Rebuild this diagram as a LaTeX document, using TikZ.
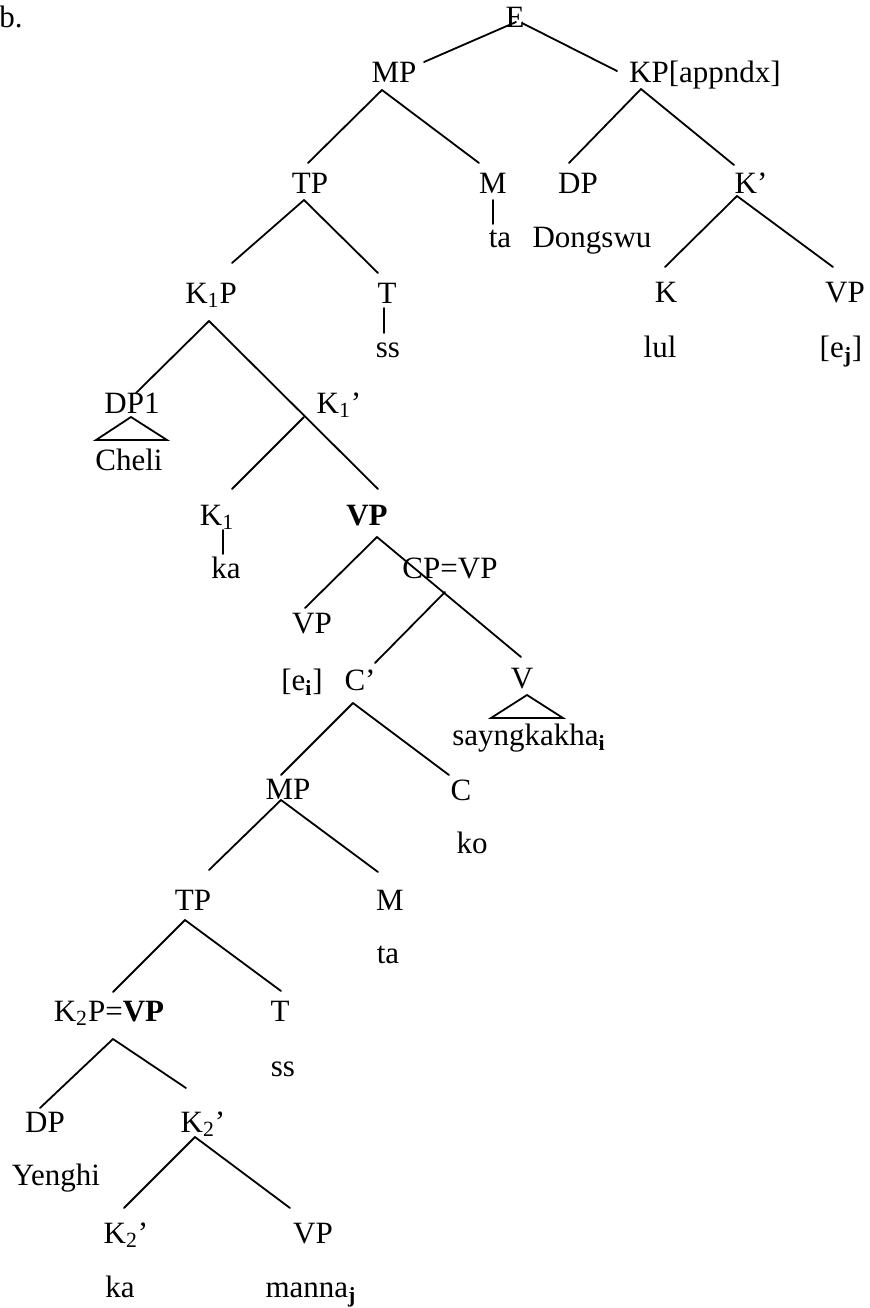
\documentclass[tikz,border=0pt]{standalone}
\usepackage{fontspec}
\setmainfont{Liberation Serif}
\newcommand{\sub}[1]{\textsubscript{#1}}
\newcommand{\bsub}[1]{\textsubscript{\textbf{#1}}}

\begin{document}
\begin{tikzpicture}[x=0.5pt,y=-0.5pt,
  lab/.style={anchor=base,inner sep=0pt,font=\fontsize{15.5}{18}\selectfont},
  edge/.style={line width=0.9pt,line cap=round}]
\useasboundingbox (0,0) rectangle (869,1308);
% labels, row by row
\node[lab,anchor=base west] (b) at (-1,27) {b.};
\node[lab] (E) at (515,27) {E};
\node[lab] (MP1) at (394,82) {MP};
\node[lab] (KP) at (705,82) {KP[appndx]};
\node[lab] (TP1) at (310,193) {TP};
\node[lab] (M1) at (493,193) {M};
\node[lab] (DPa) at (578,193) {DP};
\node[lab] (Kbar) at (751,193) {K'};
\node[lab] (ta1) at (500,247) {ta};
\node[lab] (Dong) at (592,247) {Dongswu};
\node[lab] (K1P) at (211,303) {K\sub{1}P};
\node[lab] (T1) at (387,303) {T};
\node[lab] (K) at (666,302) {K};
\node[lab] (VPr) at (845,302) {VP};
\node[lab] (ss1) at (388,357) {ss};
\node[lab] (lul) at (660,357) {lul};
\node[lab] (ej) at (841,357) {[e\bsub{j}]};
\node[lab] (DP1) at (132,413) {DP1};
\node[lab] (K1bar) at (339,413) {K\sub{1}'};
\node[lab] (Cheli) at (129,470) {Cheli};
\node[lab] (K1) at (217,525) {K\sub{1}};
\node[lab] (VPb) at (367,525) {\textbf{VP}};
\node[lab] (ka1) at (226,578) {ka};
\node[lab] (CPVP) at (450,578) {CP=VP};
\node[lab] (VPe) at (312,633) {VP};
\node[lab] (ei) at (302,690) {[e\bsub{i}]};
\node[lab] (Cbar) at (360,690) {C'};
\node[lab] (V) at (522,688) {V};
\node[lab] (sayng) at (529,745) {sayngkakha\bsub{i}};
\node[lab] (MP2) at (288,799) {MP};
\node[lab] (C) at (461,800) {C};
\node[lab] (ko) at (472,853) {ko};
\node[lab] (TP2) at (193,910) {TP};
\node[lab] (M2) at (390,910) {M};
\node[lab] (ta2) at (388,963) {ta};
\node[lab] (K2P) at (109,1021) {K\sub{2}P=\textbf{VP}};
\node[lab] (T2) at (280,1021) {T};
\node[lab] (ss2) at (283,1076) {ss};
\node[lab] (DP2) at (45,1132) {DP};
\node[lab] (K2bar) at (203,1132) {K\sub{2}'};
\node[lab] (Yenghi) at (56,1185) {Yenghi};
\node[lab] (K2bara) at (126,1243) {K\sub{2}'};
\node[lab] (VP2) at (313,1243) {VP};
\node[lab] (ka2) at (120,1297) {ka};
\node[lab] (manna) at (311,1297) {manna\bsub{j}};
% branches
\draw[edge] ([shift={(1,-5)}]E.base) -- ([shift={(30,-20)}]MP1.base);
\draw[edge] ([shift={(7,-4)}]E.base) -- ([shift={(-88,-11)}]KP.base);
\draw[edge] ([shift={(-12,8)}]MP1.base) -- ([shift={(-2,-30)}]TP1.base);
\draw[edge] ([shift={(-12,8)}]MP1.base) -- ([shift={(-14,-30)}]M1.base);
\draw[edge] ([shift={(-64,7)}]KP.base) -- ([shift={(-9,-30)}]DPa.base);
\draw[edge] ([shift={(-64,7)}]KP.base) -- ([shift={(-17,-28)}]Kbar.base);
\draw[edge] ([shift={(0,7)}]M1.base) -- ([shift={(-7,-23)}]ta1.base);
\draw[edge] ([shift={(-6,7)}]TP1.base) -- ([shift={(21,-40)}]K1P.base);
\draw[edge] ([shift={(-6,7)}]TP1.base) -- ([shift={(-9,-30)}]T1.base);
\draw[edge] ([shift={(-3,5)}]T1.base) -- ([shift={(-4,-24)}]ss1.base);
\draw[edge] ([shift={(-14,3)}]Kbar.base) -- ([shift={(-1,-35)}]K.base);
\draw[edge] ([shift={(-14,3)}]Kbar.base) -- ([shift={(-12,-35)}]VPr.base);
\draw[edge] ([shift={(-2,18)}]K1P.base) -- ([shift={(4,-20)}]DP1.base);
\draw[edge] ([shift={(-2,18)}]K1P.base) -- ([shift={(11,-36)}]VPb.base);
\draw[edge] ([shift={(-35,4)}]K1bar.base) -- ([shift={(15,-36)}]K1.base);
\draw[edge,line join=miter] ([shift={(-1,4)}]DP1.base) -- ([shift={(-33,-30)}]Cheli.base)
  -- ([shift={(38,-30)}]Cheli.base) -- cycle;
\draw[edge] ([shift={(6,5)}]K1.base) -- ([shift={(-3,-24)}]ka1.base);
\draw[edge] ([shift={(10,12)}]VPb.base) -- ([shift={(-7,-25)}]VPe.base);
\draw[edge] ([shift={(10,12)}]VPb.base) -- ([shift={(-1,-31)}]V.base);
\draw[edge] ([shift={(-5,14)}]CPVP.base) -- ([shift={(15,-27)}]Cbar.base);
\draw[edge,line join=miter] ([shift={(5,7)}]V.base) -- ([shift={(-38,-27)}]sayng.base)
  -- ([shift={(34,-27)}]sayng.base) -- cycle;
\draw[edge] ([shift={(-7,13)}]Cbar.base) -- ([shift={(-7,-24)}]MP2.base);
\draw[edge] ([shift={(-7,13)}]Cbar.base) -- ([shift={(-12,-25)}]C.base);
\draw[edge] ([shift={(-7,1)}]MP2.base) -- ([shift={(16,-40)}]TP2.base);
\draw[edge] ([shift={(-7,1)}]MP2.base) -- ([shift={(-12,-38)}]M2.base);
\draw[edge] ([shift={(-8,10)}]TP2.base) -- ([shift={(4,-29)}]K2P.base);
\draw[edge] ([shift={(-8,10)}]TP2.base) -- ([shift={(1,-30)}]T2.base);
\draw[edge] ([shift={(4,18)}]K2P.base) -- ([shift={(-5,-24)}]DP2.base);
\draw[edge] ([shift={(4,18)}]K2P.base) -- ([shift={(-17,-44)}]K2bar.base);
\draw[edge] ([shift={(-8,5)}]K2bar.base) -- ([shift={(-2,-35)}]K2bara.base);
\draw[edge] ([shift={(-8,5)}]K2bar.base) -- ([shift={(-23,-35)}]VP2.base);
\end{tikzpicture}
\end{document}
